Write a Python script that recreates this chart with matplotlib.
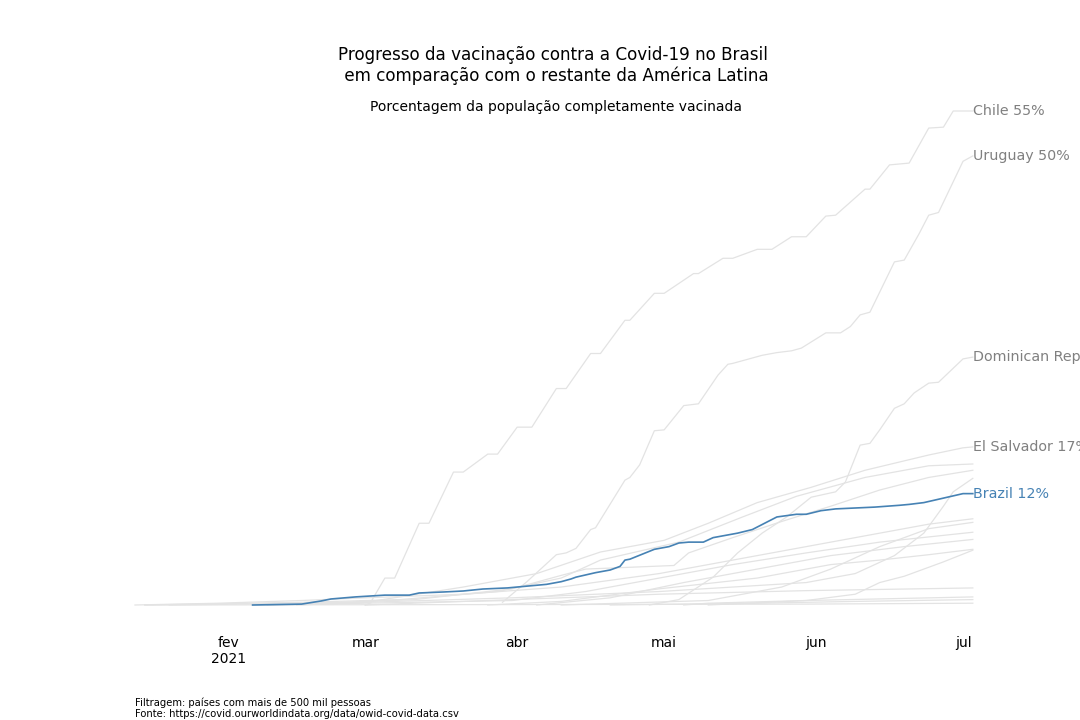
import numpy as np
import matplotlib
matplotlib.use("Agg")
import matplotlib.pyplot as plt

# dias do ano (1 = 1 jan 2021) e % da populacao completamente vacinada
chile_days = [60, 61, 64, 66, 71, 73, 78, 80, 85, 87, 91, 94, 99, 101, 106, 108, 113, 114, 119, 121,
              127, 128, 133, 135, 140, 143, 147, 150, 154, 156, 162, 163, 167, 171, 175, 178, 180, 184]
chile_vals = [0.0, 0.2, 3.0, 3.0, 9.1, 9.1, 14.8, 14.8, 16.8, 16.8, 19.8, 19.8, 24.1, 24.1, 28.0, 28.0,
              31.7, 31.7, 34.7, 34.7, 36.9, 36.9, 38.6, 38.6, 39.6, 39.6, 41.0, 41.0, 43.3, 43.4,
              46.3, 46.3, 49.0, 49.2, 53.1, 53.2, 55.0, 55.0]

uruguay_days = [88, 93, 99, 101, 103, 106, 107, 113, 114, 116, 119, 121, 125, 128, 132, 134, 135,
                141, 144, 147, 149, 154, 157, 159, 161, 163, 168, 170, 173, 175, 177, 182, 184]
uruguay_vals = [0.3, 2.6, 5.6, 5.8, 6.3, 8.4, 8.6, 13.9, 14.2, 15.6, 19.4, 19.5, 22.2, 22.4, 25.6,
                26.8, 26.9, 27.8, 28.1, 28.3, 28.6, 30.3, 30.3, 31.0, 32.3, 32.6, 38.2, 38.4, 41.3,
                43.4, 43.7, 49.4, 50.0]

dominican_days = [118, 124, 131, 136, 141, 146, 151, 156, 158, 161, 163, 165, 168, 170, 172, 175, 177, 182, 184]
dominican_vals = [0.0, 0.6, 3.1, 5.8, 8.0, 9.8, 12.0, 12.6, 13.7, 17.8, 18.0, 19.5, 21.9, 22.4, 23.6,
                  24.7, 24.8, 27.4, 27.6]

salvador_days = [46, 60, 80, 95, 108, 121, 130, 140, 151, 162, 175, 182, 184]
salvador_vals = [0.0, 0.3, 2.0, 3.5, 5.9, 7.2, 9.1, 11.4, 13.1, 15.0, 16.7, 17.5, 17.6]

brazil_days = [37, 47, 51, 53, 58, 64, 69, 71, 76, 80, 84, 89, 93, 97, 100, 102, 103, 107, 110, 112,
               113, 114, 119, 122, 124, 126, 129, 131, 134, 136, 139, 144, 148, 150, 153, 156, 160,
               164, 169, 171, 174, 178, 182, 184]
brazil_vals = [0.0, 0.1, 0.45, 0.67, 0.9, 1.1, 1.1, 1.34, 1.45, 1.56, 1.78, 1.9, 2.1, 2.3, 2.6, 2.9,
               3.1, 3.6, 3.9, 4.3, 5.0, 5.1, 6.2, 6.5, 6.9, 7.0, 7.0, 7.5, 7.8, 8.0, 8.4, 9.8, 10.1,
               10.1, 10.5, 10.7, 10.8, 10.9, 11.1, 11.2, 11.4, 11.9, 12.4, 12.4]

mexico_days = [15, 47, 67, 87, 100, 108, 124, 137, 148, 162, 175, 184]
mexico_vals = [0.0, 0.3, 0.6, 1.5, 3.0, 5.0, 7.0, 9.8, 12.1, 14.2, 15.5, 15.7]

cuba_days = [40, 70, 90, 100, 105, 123, 126, 135, 145, 155, 165, 175, 184]
cuba_vals = [0.0, 0.6, 1.8, 3.3, 4.0, 4.4, 5.8, 7.5, 9.3, 11.0, 12.8, 14.2, 15.0]

costarica_days = [20, 60, 90, 120, 150, 160, 168, 174, 178, 180, 184]
costarica_vals = [0.0, 0.3, 0.8, 1.5, 2.5, 3.5, 5.5, 8.0, 11.0, 12.6, 14.1]

argentina_days = [13, 30, 47, 60, 80, 100, 120, 140, 160, 175, 184]
argentina_vals = [0.0, 0.2, 0.5, 0.8, 1.2, 2.0, 3.5, 5.5, 7.5, 9.0, 9.6]

colombia_days = [100, 130, 145, 155, 165, 175, 184]
colombia_vals = [0.0, 0.5, 2.0, 4.0, 6.5, 8.5, 9.2]

panama_days = [40, 90, 105, 120, 135, 150, 165, 184]
panama_vals = [0.0, 0.5, 1.5, 3.0, 4.5, 5.8, 7.0, 8.1]

peru_days = [95, 110, 125, 140, 155, 170, 184]
peru_vals = [0.0, 0.8, 2.5, 4.0, 5.5, 6.5, 7.3]

bolivia_days = [85, 100, 120, 140, 155, 165, 175, 184]
bolivia_vals = [0.0, 0.4, 1.8, 3.0, 4.5, 5.0, 5.6, 6.2]

ecuador_days = [130, 150, 160, 165, 170, 178, 184]
ecuador_vals = [0.0, 0.5, 1.2, 2.5, 3.2, 4.8, 6.1]

paraguay_days = [60, 100, 120, 150, 184]
paraguay_vals = [0.0, 0.8, 1.2, 1.6, 1.9]

guatemala_days = [125, 130, 150, 184]
guatemala_vals = [0.0, 0.2, 0.5, 0.9]

honduras_days = [110, 140, 160, 184]
honduras_vals = [0.0, 0.2, 0.4, 0.6]

nicaragua_days = [15, 90, 150, 184]
nicaragua_vals = [0.0, 0.05, 0.1, 0.2]

grey_series = [
    (mexico_days, mexico_vals), (cuba_days, cuba_vals), (costarica_days, costarica_vals),
    (argentina_days, argentina_vals), (colombia_days, colombia_vals), (panama_days, panama_vals),
    (peru_days, peru_vals), (bolivia_days, bolivia_vals), (ecuador_days, ecuador_vals),
    (paraguay_days, paraguay_vals), (guatemala_days, guatemala_vals), (honduras_days, honduras_vals),
    (nicaragua_days, nicaragua_vals), (chile_days, chile_vals), (uruguay_days, uruguay_vals),
    (dominican_days, dominican_vals), (salvador_days, salvador_vals),
]
labelled = [("Chile", chile_days, chile_vals), ("Uruguay", uruguay_days, uruguay_vals),
            ("Dominican Republic", dominican_days, dominican_vals),
            ("El Salvador", salvador_days, salvador_vals)]

tick_days = [32, 60, 91, 121, 152, 182]
tick_labels = ["fev\n2021", "mar", "abr", "mai", "jun", "jul"]

GREY = "#e3e3e3"
BLUE = "#4682b4"
LABEL_GREY = "#808080"


def to_dates(days):
    return np.datetime64("2021-01-01") + np.array(days, dtype="timedelta64[D]") - np.timedelta64(1, "D")


fig = plt.figure(figsize=(10.8, 7.2), dpi=100)
ax = fig.add_axes([135 / 1080, 115 / 720, 837 / 1080, 494 / 720])

for days, vals in grey_series:
    ax.plot(to_dates(days), vals, color=GREY, lw=0.9, clip_on=False)
ax.plot(to_dates(brazil_days), brazil_vals, color=BLUE, lw=1.2, clip_on=False, zorder=5)

# rotulos no fim das linhas
for name, days, vals in labelled:
    ax.text(to_dates(days)[-1], vals[-1], f"{name} {int(vals[-1])}%", color=LABEL_GREY,
            fontsize=10.3, va="center", ha="left", clip_on=False)
ax.text(to_dates(brazil_days)[-1], brazil_vals[-1], f"Brazil {int(brazil_vals[-1])}%", color=BLUE,
        fontsize=10.3, va="center", ha="left", clip_on=False)

ax.set_xlim(np.datetime64("2021-01-13"), np.datetime64("2021-07-02T20:00"))
ax.set_ylim(0, 55)
ax.set_xticks(to_dates(tick_days))
ax.set_xticklabels(tick_labels, fontsize=10)
ax.tick_params(axis="x", length=0, pad=22.5)
ax.set_yticks([])
for spine in ax.spines.values():
    spine.set_visible(False)

fig.text(553.5 / 1080, 1 - 46 / 720,
         "Progresso da vacinação contra a Covid-19 no Brasil\n em comparação com o restante da América Latina",
         ha="center", va="top", fontsize=12.1)
fig.text(556 / 1080, 1 - 107 / 720, "Porcentagem da população completamente vacinada",
         ha="center", va="center", fontsize=10)
fig.text(135 / 1080, 1 - 697 / 720,
         "Filtragem: países com mais de 500 mil pessoas\nFonte: https://covid.ourworldindata.org/data/owid-covid-data.csv",
         ha="left", va="top", fontsize=7.2)

fig.savefig("out.png", dpi=100)
